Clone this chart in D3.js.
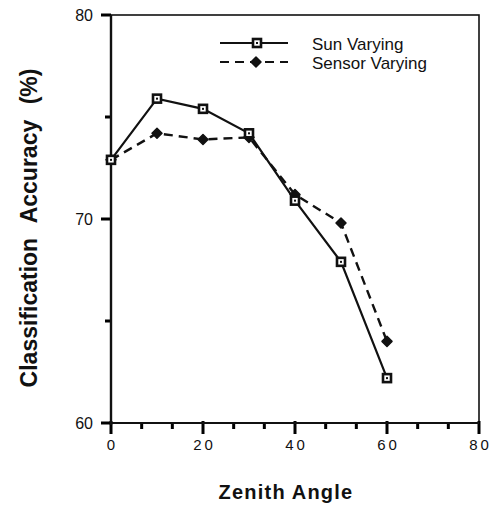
<!DOCTYPE html>
<html><head><meta charset="utf-8">
<script src="https://cdn.jsdelivr.net/npm/d3@7"></script>
<style>body{margin:0;background:#fff}svg{display:block}text{font-family:"Liberation Sans",Arial,sans-serif;fill:#111}</style>
</head><body><svg id="c" width="492" height="505"></svg>
<script>
const zenith = [0, 10, 20, 30, 40, 50, 60];
const sunVarying = [72.9, 75.9, 75.4, 74.2, 70.9, 67.9, 62.2];
const sensorVarying = [72.9, 74.2, 73.9, 74.0, 71.2, 69.8, 64.0];
const seriesNames = ["Sun Varying", "Sensor Varying"];
const xTicks = [0, 20, 40, 60, 80];
const yTicks = [60, 70, 80];
const xTitle = "Zenith Angle";
const yTitle = "Classification Accuracy (%)";

const svg = d3.select("#c");
const L = 111, R = 479, T = 15, B = 423;
const x = d3.scaleLinear().domain([0, 80]).range([L, R]);
const y = d3.scaleLinear().domain([60, 80]).range([B, T]);
const ink = "#111";

svg.append("rect").attr("x", L).attr("y", T).attr("width", R - L).attr("height", B - T)
  .attr("fill", "none").attr("stroke", ink).attr("stroke-width", 1.6);

const xMinor = d3.range(0, 80.01, 80 / 12);
const isMajorX = d => xTicks.some(t => Math.abs(t - d) < 0.01);
xMinor.forEach(d => {
  svg.append("rect").attr("x", x(d) - 1.5).attr("width", 3)
    .attr("y", isMajorX(d) ? B - 2 : B).attr("height", isMajorX(d) ? 13 : 6)
    .attr("fill", "#000");
});
[60, 65, 70, 75, 80].forEach(d => {
  svg.append("rect").attr("y", y(d) - 1.5).attr("height", 3)
    .attr("x", yTicks.includes(d) ? L - 10 : L - 6).attr("width", yTicks.includes(d) ? 10 : 6)
    .attr("fill", "#000");
});

const gx = svg.append("g").attr("transform", `translate(0,${B})`);
gx.call(d3.axisBottom(x).tickValues(xTicks).tickSize(0).tickPadding(16));
gx.select(".domain").remove();
gx.selectAll("text").attr("font-size", 15).attr("letter-spacing", "3px").attr("dx", 1).attr("fill", ink);
const gy = svg.append("g").attr("transform", `translate(${L},0)`);
gy.call(d3.axisLeft(y).tickValues(yTicks).tickSize(0).tickPadding(18));
gy.select(".domain").remove();
gy.selectAll("text").attr("font-size", 16).attr("fill", ink);

svg.append("line").attr("x1", L).attr("x2", L).attr("y1", T).attr("y2", B + 2).attr("stroke", ink).attr("stroke-width", 2.4);
svg.append("line").attr("x1", L).attr("x2", R).attr("y1", B).attr("y2", B).attr("stroke", ink).attr("stroke-width", 2.2);

const line = d3.line().x((d, i) => x(zenith[i])).y(d => y(d));
svg.append("path").datum(sunVarying).attr("d", line).attr("fill", "none").attr("stroke", ink).attr("stroke-width", 2.2);
svg.append("path").datum(sensorVarying).attr("d", line).attr("fill", "none").attr("stroke", ink).attr("stroke-width", 2.4).attr("stroke-dasharray", "9,6");

function square(g, cx, cy) {
  g.append("rect").attr("x", cx - 4).attr("y", cy - 4).attr("width", 8).attr("height", 8)
    .attr("fill", "#fff").attr("stroke", ink).attr("stroke-width", 2.6);
  g.append("rect").attr("x", cx - 1).attr("y", cy - 1).attr("width", 2).attr("height", 2).attr("fill", ink);
}
function diamond(g, cx, cy) {
  g.append("path").attr("d", d3.symbol(d3.symbolSquare, 50)())
    .attr("transform", `translate(${cx},${cy}) rotate(45)`)
    .attr("fill", ink).attr("stroke", ink).attr("stroke-width", 1.5).attr("stroke-linejoin", "round");
}
const mk = svg.append("g");
sensorVarying.forEach((v, i) => diamond(mk, x(zenith[i]), y(v)));
sunVarying.forEach((v, i) => square(mk, x(zenith[i]), y(v)));

const lg = svg.append("g");
lg.append("line").attr("x1", 220).attr("x2", 288).attr("y1", 43).attr("y2", 43).attr("stroke", ink).attr("stroke-width", 2);
square(lg, 257, 43);
lg.append("line").attr("x1", 220).attr("x2", 288).attr("y1", 62).attr("y2", 62).attr("stroke", ink).attr("stroke-width", 2.2).attr("stroke-dasharray", "9,6");
diamond(lg, 256, 62);
lg.append("text").attr("x", 312).attr("y", 50).attr("font-size", 17).text(seriesNames[0]);
lg.append("text").attr("x", 312).attr("y", 69).attr("font-size", 17).text(seriesNames[1]);

svg.append("text").attr("x", 286).attr("y", 499).attr("text-anchor", "middle")
  .attr("font-size", 20).attr("font-weight", "bold").attr("letter-spacing", "1.2px").text(xTitle);
svg.append("text").attr("transform", "translate(37,228) rotate(-90)").attr("text-anchor", "middle")
  .attr("font-size", 23).attr("font-weight", "bold").attr("word-spacing", "9px").text(yTitle);
</script></body></html>
